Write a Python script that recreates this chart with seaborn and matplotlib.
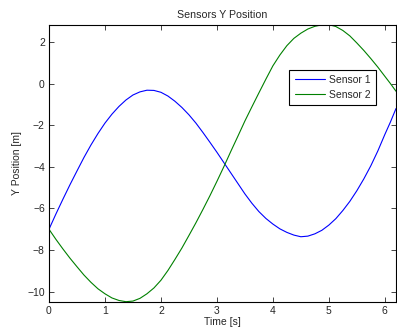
import matplotlib
matplotlib.use("Agg")
import matplotlib.pyplot as plt
import seaborn as sns
import pandas as pd

# Sample times [s]
time_s = [0.0, 0.125, 0.25, 0.375, 0.5, 0.625, 0.75, 0.875, 1.0, 1.125,
          1.25, 1.375, 1.5, 1.625, 1.75, 1.875, 2.0, 2.125, 2.25, 2.375,
          2.5, 2.625, 2.75, 2.875, 3.0, 3.125, 3.25, 3.375, 3.5, 3.625,
          3.75, 3.875, 4.0, 4.125, 4.25, 4.375, 4.5, 4.625, 4.75, 4.875,
          5.0, 5.125, 5.25, 5.375, 5.5, 5.625, 5.75, 5.875, 6.0, 6.1, 6.2]

# Y position of each sensor [m]
sensor1_y = [-7.0, -6.26, -5.55, -4.86, -4.2, -3.55, -2.95, -2.40, -1.9, -1.47,
             -1.1, -0.79, -0.55, -0.40, -0.32, -0.33, -0.42, -0.60, -0.85, -1.15,
             -1.5, -1.90, -2.35, -2.82, -3.3, -3.80, -4.3, -4.80, -5.3, -5.75,
             -6.15, -6.48, -6.75, -6.98, -7.15, -7.28, -7.36, -7.33, -7.22, -7.05,
             -6.8, -6.49, -6.1, -5.66, -5.15, -4.58, -3.95, -3.24, -2.45, -1.85,
             -1.2]
sensor2_y = [-7.0, -7.49, -7.95, -8.39, -8.8, -9.20, -9.55, -9.86, -10.1, -10.30,
             -10.42, -10.48, -10.45, -10.32, -10.1, -9.82, -9.45, -8.98, -8.45, -7.90,
             -7.3, -6.69, -6.05, -5.39, -4.7, -3.99, -3.25, -2.53, -1.8, -1.12,
             -0.45, 0.21, 0.85, 1.37, 1.82, 2.17, 2.42, 2.62, 2.75, 2.82,
             2.83, 2.74, 2.55, 2.29, 1.95, 1.59, 1.2, 0.79, 0.35, 0.0,
             -0.37]

series_names = ["Sensor 1", "Sensor 2"]
x_ticks = [0, 1, 2, 3, 4, 5, 6]
y_ticks = [-10, -8, -6, -4, -2, 0, 2]

df = pd.DataFrame({
    "Time": time_s * 2,
    "Y": sensor1_y + sensor2_y,
    "Sensor": [series_names[0]] * len(time_s) + [series_names[1]] * len(time_s),
})

sns.set_style("ticks")
plt.rcParams["font.family"] = ["Liberation Sans", "DejaVu Sans"]
plt.rcParams["font.size"] = 7.5

fig = plt.figure(figsize=(3.97, 3.33), dpi=100)
ax = fig.add_axes([0.1234, 0.094, 0.8741, 0.832])

sns.lineplot(data=df, x="Time", y="Y", hue="Sensor",
             palette={"Sensor 1": "#0000ff", "Sensor 2": "#008000"},
             linewidth=0.8, ax=ax, sort=False, estimator=None)

ax.set_xlim(0, 6.2)
ax.set_ylim(-10.48, 2.83)
ax.set_xticks(x_ticks)
ax.set_yticks(y_ticks)
ax.set_yticklabels(["\u221210", "\u22128", "\u22126", "\u22124", "\u22122", "0", "2"])
ax.tick_params(direction="in", top=True, right=True, length=3.5, width=0.6,
               labelsize=7.5, pad=3, colors="#262626", labelcolor="#262626")
for sp in ax.spines.values():
    sp.set_visible(True)
    sp.set_linewidth(0.8)
    sp.set_color("black")

ax.set_title("Sensors Y Position", fontsize=7.7, pad=5)
ax.set_xlabel("Time [s]", fontsize=7.5, labelpad=1)
ax.set_ylabel("Y Position [m]", fontsize=7.5, labelpad=4)

leg = ax.legend(loc="upper right", bbox_to_anchor=(0.942, 0.838), frameon=True,
                fancybox=False, edgecolor="black", framealpha=1,
                fontsize=7.5, handlelength=2.9, handletextpad=0.4,
                borderpad=0.5, labelspacing=0.5, borderaxespad=0)
leg.get_frame().set_linewidth(0.8)
leg.set_title(None)

fig.savefig("out.png", dpi=100)
